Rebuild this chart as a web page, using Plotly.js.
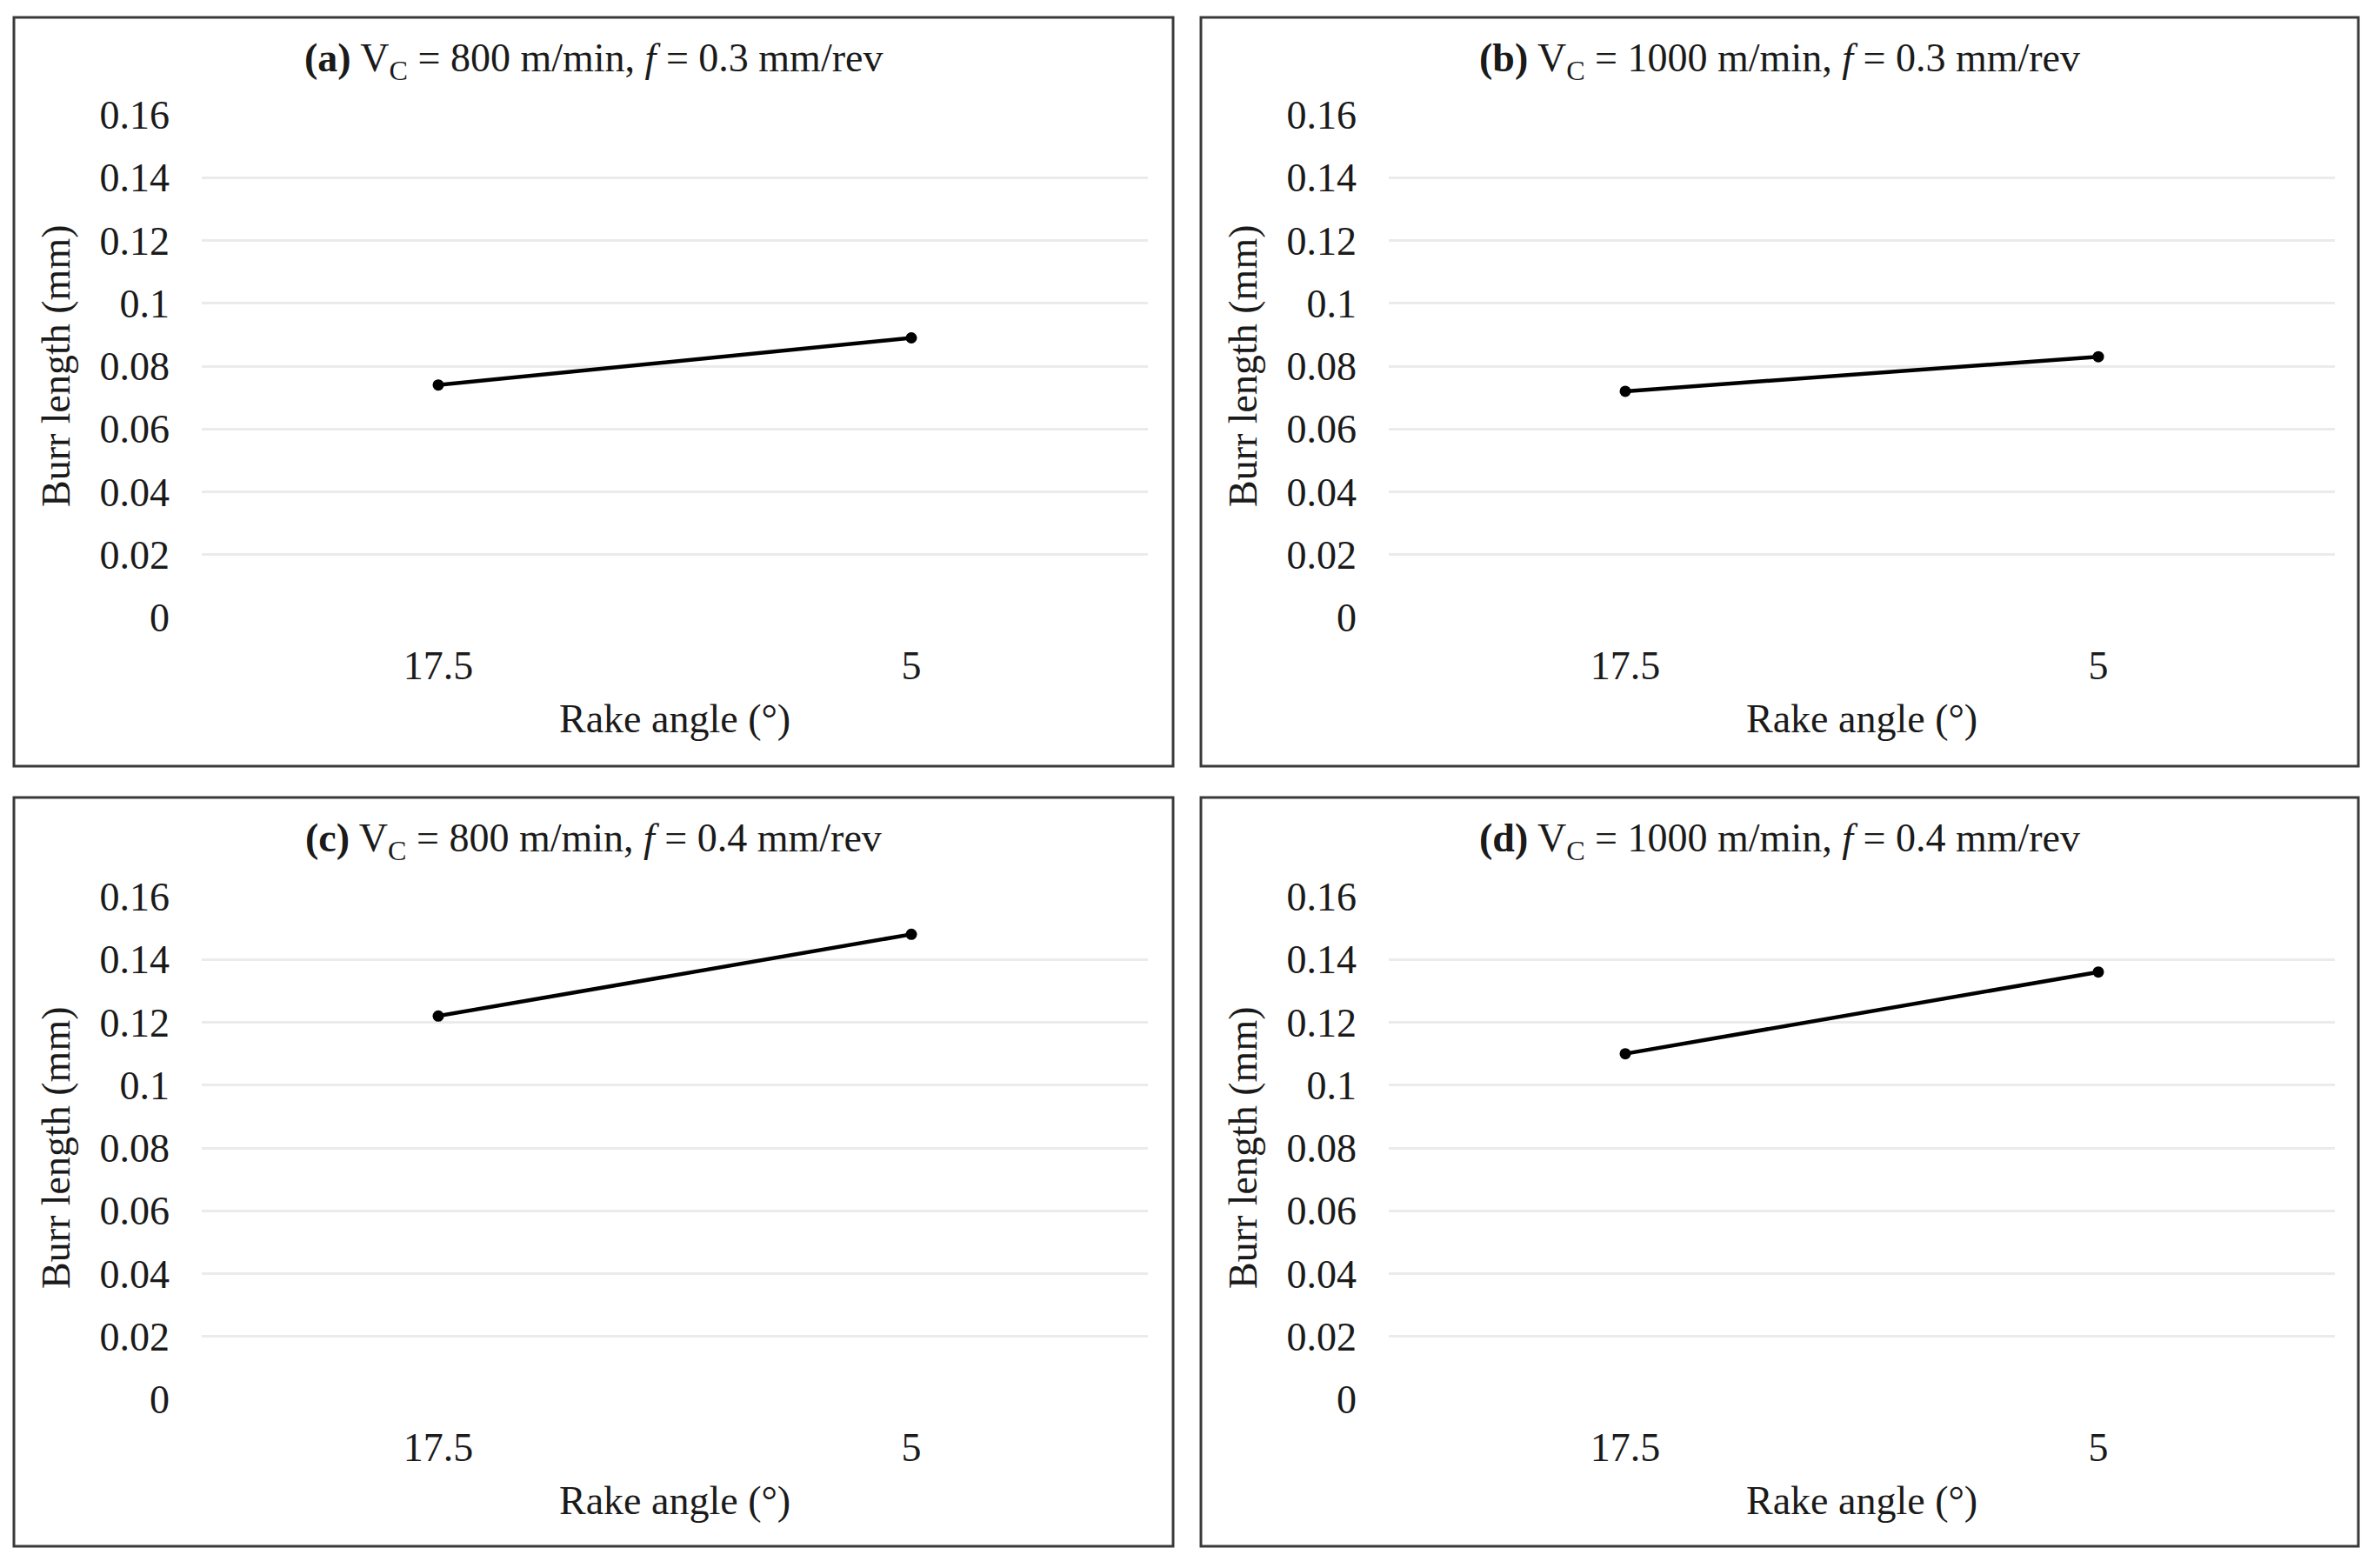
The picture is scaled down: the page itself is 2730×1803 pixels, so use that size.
<!DOCTYPE html>
<html>
<head>
<meta charset="utf-8">
<script src="https://cdn.plot.ly/plotly-3.0.1.min.js"></script>
<style>html,body{margin:0;padding:0;background:#fff;}#chart{width:2730px;height:1803px;}</style>
</head>
<body>
<div id="chart"></div>
<script>
// Data
const rakeAngles = ["17.5", "5"];
const burrA = [0.074, 0.089];
const burrB = [0.072, 0.083];
const burrC = [0.122, 0.148];
const burrD = [0.110, 0.136];
const panelTitles = [
  "<b>(a)</b> V<sub>C</sub> = 800 m/min, <i>f</i> = 0.3 mm/rev",
  "<b>(b)</b> V<sub>C</sub> = 1000 m/min, <i>f</i> = 0.3 mm/rev",
  "<b>(c)</b> V<sub>C</sub> = 800 m/min, <i>f</i> = 0.4 mm/rev",
  "<b>(d)</b> V<sub>C</sub> = 1000 m/min, <i>f</i> = 0.4 mm/rev"
];
const yTicks = [0, 0.02, 0.04, 0.06, 0.08, 0.1, 0.12, 0.14, 0.16];
const yTickText = ["0", "0.02", "0.04", "0.06", "0.08", "0.1", "0.12", "0.14", "0.16"];
const xTitle = "Rake angle (°)";
const yTitle = "Burr length (mm)";

const W = 2730, H = 1803;
const FONT = "Liberation Serif, Times New Roman, serif";
const px = v => v / W;
const py = v => 1 - v / H;

// panel geometry (pixels)
const panels = [
  {bx0: 16, bx1: 1349, by0: 20, by1: 881, px0: 232, px1: 1320, py0: 132, py1: 710},
  {bx0: 1381, bx1: 2712, by0: 20, by1: 881, px0: 1597, px1: 2685, py0: 132, py1: 710},
  {bx0: 16, bx1: 1349, by0: 917, by1: 1778, px0: 232, px1: 1320, py0: 1031, py1: 1609},
  {bx0: 1381, bx1: 2712, by0: 917, by1: 1778, px0: 1597, px1: 2685, py0: 1031, py1: 1609}
];
const series = [burrA, burrB, burrC, burrD];

const data = [];
const layout = {
  width: W, height: H,
  margin: {l: 0, r: 0, t: 0, b: 0},
  paper_bgcolor: "#fff", plot_bgcolor: "#fff",
  showlegend: false,
  font: {family: FONT, size: 46, color: "#1a1a1a"},
  shapes: [], annotations: []
};

panels.forEach((p, i) => {
  const n = i === 0 ? "" : String(i + 1);
  data.push({
    type: "scatter", mode: "lines+markers",
    x: rakeAngles, y: series[i],
    xaxis: "x" + n, yaxis: "y" + n,
    line: {color: "#000", width: 4.5},
    marker: {color: "#000", size: 13},
    hoverinfo: "x+y"
  });
  layout["xaxis" + n] = {
    domain: [px(p.px0), px(p.px1)],
    anchor: "y" + n,
    type: "category",
    range: [-0.5, 1.5],
    showgrid: false, zeroline: false, showline: false,
    ticks: "", ticklabelstandoff: 24,
    tickfont: {family: FONT, size: 46, color: "#1a1a1a"},
    fixedrange: true
  };
  layout["yaxis" + n] = {
    domain: [py(p.py1), py(p.py0)],
    anchor: "x" + n,
    range: [0, 0.16],
    tickvals: yTicks, ticktext: yTickText,
    showgrid: true, gridcolor: "#ebebeb", gridwidth: 2.5,
    zeroline: false, showline: false,
    ticks: "", ticklabelstandoff: 36,
    tickfont: {family: FONT, size: 46, color: "#1a1a1a"},
    fixedrange: true
  };
  layout.shapes.push({
    type: "rect", xref: "paper", yref: "paper",
    x0: px(p.bx0), x1: px(p.bx1), y0: py(p.by1), y1: py(p.by0),
    line: {color: "#3a3a3a", width: 3}, fillcolor: "rgba(0,0,0,0)", layer: "below"
  });
  layout.annotations.push({
    xref: "paper", yref: "paper",
    x: px((p.bx0 + p.bx1) / 2), y: py(p.by0 + 50),
    xanchor: "center", yanchor: "middle",
    text: panelTitles[i], showarrow: false,
    font: {family: FONT, size: 46, color: "#1a1a1a"}
  });
  layout.annotations.push({
    xref: "paper", yref: "paper",
    x: px((p.px0 + p.px1) / 2), y: py(p.py1 + 116),
    xanchor: "center", yanchor: "middle",
    text: xTitle, showarrow: false,
    font: {family: FONT, size: 46, color: "#1a1a1a"}
  });
  layout.annotations.push({
    xref: "paper", yref: "paper",
    x: px(p.bx0 + 48), y: py((p.py0 + p.py1) / 2),
    xanchor: "center", yanchor: "middle", textangle: -90,
    text: yTitle, showarrow: false,
    font: {family: FONT, size: 46, color: "#1a1a1a"}
  });
});

Plotly.newPlot("chart", data, layout, {displayModeBar: false});
</script>
</body>
</html>
